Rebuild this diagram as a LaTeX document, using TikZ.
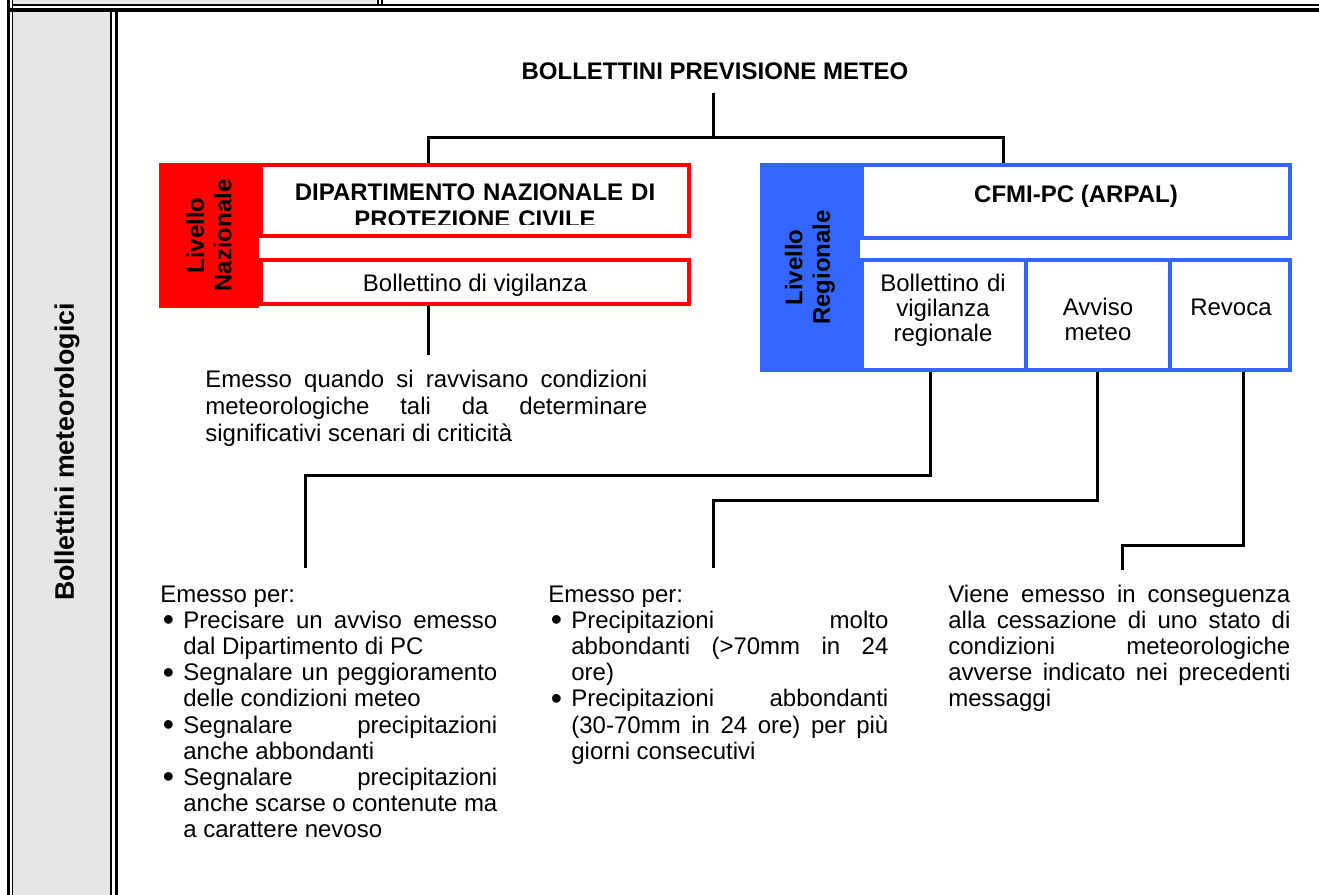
\documentclass[tikz,border=0pt]{standalone}
\usepackage{fontspec}
\setmainfont{Liberation Sans}
\usetikzlibrary{fit}
\definecolor{rossoN}{RGB}{255,0,0}
\definecolor{bluR}{RGB}{51,102,255}
\definecolor{grigio}{RGB}{230,230,230}
\newcommand\bitem[1]{\par\noindent\hangindent=11.5pt\hangafter=1\makebox[11.5pt][l]{\hspace{1.2pt}{\fontsize{16}{16}\selectfont\raisebox{-1.2pt}{\textbullet}}}#1\par}
\begin{document}
\begin{tikzpicture}[x=0.5pt,y=-0.5pt,
  conn/.style={line width=1.5pt,draw=black},
  rbox/.style={draw=rossoN,line width=2pt,fill=white,inner sep=0pt},
  bbox/.style={draw=bluR,line width=2pt,fill=white,inner sep=0pt},
  bold/.style={font=\bfseries\fontsize{12}{13.8}\selectfont,inner sep=0pt},
  body/.style={font=\fontsize{12}{12.5}\selectfont,inner sep=0pt},
  para/.style={font=\fontsize{12}{13.1}\selectfont,inner sep=0pt,align=justify,anchor=base west},
]
\useasboundingbox (0,0) rectangle (1319,895);
% ---------- table frame ----------
\fill[grigio] (13,0) rectangle (376,4);
\fill[grigio] (13,12) rectangle (110,895);
\draw[line width=1.5pt] (8.5,0) -- (8.5,895);
\draw[line width=0.75pt] (12.5,0) -- (12.5,895);
\draw[line width=1pt] (12,5) -- (1319,5);
\draw[line width=1.75pt] (7,10) -- (1319,10);
\draw[line width=1pt] (377.5,0) -- (377.5,5);
\draw[line width=0.75pt] (382,0) -- (382,5);
\draw[line width=1pt] (111,11) -- (111,895);
\draw[line width=1.5pt] (116,11) -- (116,895);
\node[bold,font=\bfseries\fontsize{13.4}{15}\selectfont,rotate=90] (side) at (67,452) {Bollettini meteorologici};
% ---------- title ----------
\node[bold,anchor=base] (title) at (715,79) {BOLLETTINI PREVISIONE METEO};
% ---------- national level ----------
\node[fill=rossoN,inner sep=0pt,fit={(159,163)(259,308)}] (rl) {};
\node[bold,rotate=90,align=center] (rlT) at (rl.center) {Livello\\Nazionale};
\node[rbox,fit={(261,165)(689,236)}] (dip) {};
\begin{scope}
\clip (263,167) rectangle (687,224);
\node[bold,anchor=base,align=center,text width=214pt] (dipT) at (475,200) {DIPARTIMENTO NAZIONALE DI\\PROTEZIONE CIVILE};
\end{scope}
\node[rbox,fit={(261,260)(689,304)}] (bv) {};
\begin{scope}
\clip (263,262) rectangle (687,295);
\node[body,anchor=base] (bvT) at (475,291) {Bollettino di vigilanza};
\end{scope}
% ---------- regional level ----------
\node[fill=bluR,inner sep=0pt,fit={(760,163)(860,372)}] (bl) {};
\node[bold,rotate=90,align=center] (blT) at (bl.center) {Livello\\Regionale};
\node[bbox,fit={(862,165)(1290,238)}] (cfmi) {};
\node[bold,anchor=base] (cfmiT) at (1076,202) {CFMI-PC (ARPAL)};
\node[bbox,fit={(862,260)(1026,370)}] (bvr) {};
\node[bbox,fit={(1026,260)(1170,370)}] (avv) {};
\node[bbox,fit={(1170,260)(1290,370)}] (rev) {};
\node[body,anchor=base,align=center,text width=80pt] (bvrT) at (943,291) {Bollettino di\\vigilanza\\regionale};
\node[body,anchor=base,align=center,text width=70pt] (avvT) at (1098,315) {Avviso\\meteo};
\node[body,anchor=base] (revT) at (1231,315) {Revoca};
% ---------- connectors ----------
\coordinate (tA) at (713,93);
\coordinate (tB) at (713,137);
\coordinate (hl) at (428,137);
\coordinate (hr) at (1003,137);
\draw[conn] (tA) -- (tB);
\draw[conn] (dip.north -| hl) -- (hl) -- (hr) -- (cfmi.north -| hr);
\coordinate (bvE) at (428,355);
\draw[conn] (bv.south -| bvE) -- (bvE);
\coordinate (k1) at (930,475);
\coordinate (k1e) at (305,568);
\draw[conn] (bvr.south -| k1) -- (k1) -| (k1e);
\coordinate (k2) at (1097,500);
\coordinate (k2e) at (713,568);
\draw[conn] (avv.south -| k2) -- (k2) -| (k2e);
\coordinate (k3) at (1243,545);
\coordinate (k3e) at (1122,570);
\draw[conn] (rev.south -| k3) -- (k3) -| (k3e);
% ---------- descriptions ----------
\node[para,text width=221pt,font=\fontsize{12}{13.5}\selectfont] (d1) at (205,387) {Emesso quando si ravvisano condizioni\linebreak meteorologiche tali da determinare\linebreak significativi scenari di criticità};
\node[para,text width=168.5pt] (d2) at (160,602) {Emesso per:
\bitem{Precisare un avviso emesso\linebreak dal Dipartimento di PC}
\bitem{Segnalare un peggioramento\linebreak delle condizioni meteo}
\bitem{Segnalare precipitazioni\linebreak anche abbondanti}
\bitem{Segnalare precipitazioni\linebreak anche scarse o contenute ma\linebreak a carattere nevoso}};
\node[para,text width=170pt] (d3) at (548,602) {Emesso per:
\bitem{Precipitazioni molto\linebreak abbondanti (>70mm in 24\linebreak ore)}
\bitem{Precipitazioni abbondanti\linebreak (30-70mm in 24 ore) per più\linebreak giorni consecutivi}};
\node[para,text width=171pt] (d4) at (948,602) {Viene emesso in conseguenza\linebreak alla cessazione di uno stato di\linebreak condizioni meteorologiche\linebreak avverse indicato nei precedenti\linebreak messaggi};
\end{tikzpicture}
\end{document}
